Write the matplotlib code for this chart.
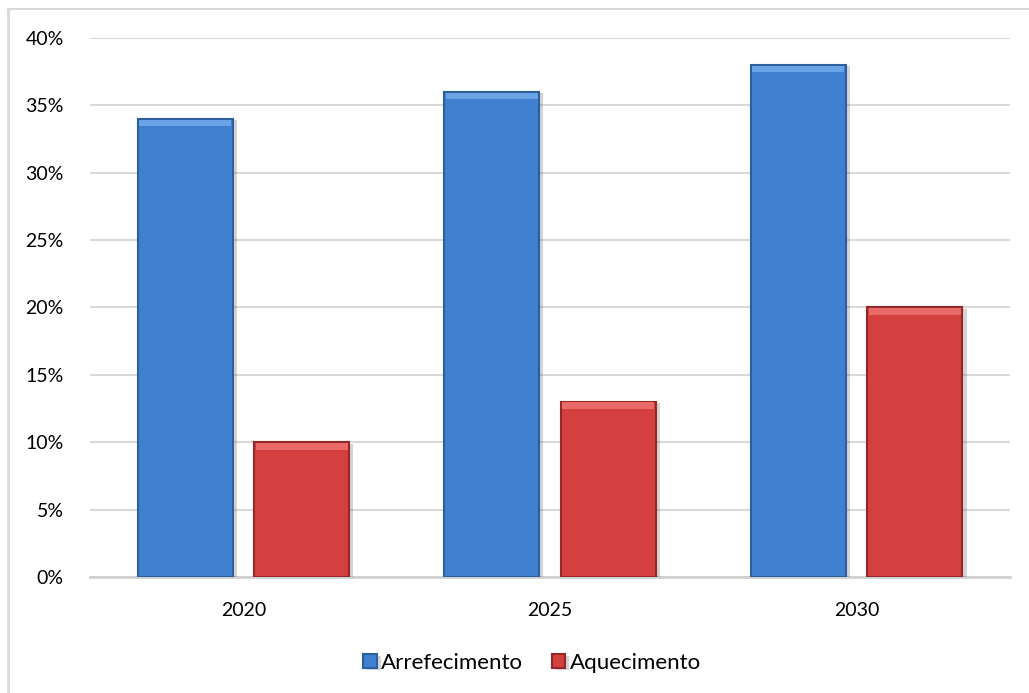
import matplotlib.pyplot as plt
import matplotlib.patheffects as pe
import numpy as np

# dados
anos = ['2020', '2025', '2030']
arrefecimento = [34, 36, 38]
aquecimento = [10, 13, 20]
rotulos_y = ['0%', '5%', '10%', '15%', '20%', '25%', '30%', '35%', '40%']

plt.rcParams['font.family'] = ['Lato', 'DejaVu Sans']

fig = plt.figure(figsize=(10.29, 6.93), dpi=100)
ax = fig.add_axes([0.0875, 0.1674, 0.894, 0.7778])

x = np.arange(len(anos))
largura = 0.31
desloc = 0.19

series = [
    (arrefecimento, -desloc, '#3f80d0', '#6aa3e6', '#2d5f9c', 'Arrefecimento'),
    (aquecimento, desloc, '#d43f3f', '#ea6a6a', '#942828', 'Aquecimento'),
]

sombra = [pe.SimplePatchShadow(offset=(3, -1), alpha=0.25, shadow_rgbFace='#555555'), pe.Normal()]

handles = []
for valores, dx, cor, cor_topo, cor_borda, nome in series:
    b = ax.bar(x + dx, valores, largura, color=cor, edgecolor=cor_borda,
               linewidth=1.5, zorder=3, path_effects=sombra, label=nome)
    # faixa clara no topo (efeito de bisel)
    topo = 0.5
    ax.bar(x + dx, [topo] * len(valores), largura * 0.97,
           bottom=[v - topo - 0.05 for v in valores],
           color=cor_topo, linewidth=0, zorder=4)
    handles.append(b)

ax.set_xlim(-0.5, 2.5)
ax.set_ylim(0, 40)
ax.set_yticks(range(0, 41, 5))
ax.set_yticklabels(rotulos_y)
ax.set_xticks(x)
ax.set_xticklabels(anos)
ax.tick_params(axis='both', length=0, labelsize=14, colors='black')
ax.tick_params(axis='y', pad=19)
ax.tick_params(axis='x', pad=18)

ax.grid(axis='y', color='#d9d9d9', linewidth=1.5, zorder=0)
ax.set_axisbelow(True)
for lado in ['top', 'right', 'left']:
    ax.spines[lado].set_visible(False)
ax.spines['bottom'].set_color('#d0d0d0')
ax.spines['bottom'].set_linewidth(2)

fig.legend(handles=handles, loc='lower center', bbox_to_anchor=(0.517, 0.0),
           ncol=2, frameon=False, fontsize=16, handlelength=0.6, handleheight=0.6,
           handletextpad=0.2, columnspacing=1.3)

# moldura do gráfico
fig.add_artist(plt.Line2D([8 / 1029, 1], [1 - 9 / 693, 1 - 9 / 693], color='#d9d9d9', linewidth=1.5))
fig.add_artist(plt.Line2D([8 / 1029, 8 / 1029], [0, 1 - 9 / 693], color='#d9d9d9', linewidth=2))

fig.savefig('out.png', dpi=100)
